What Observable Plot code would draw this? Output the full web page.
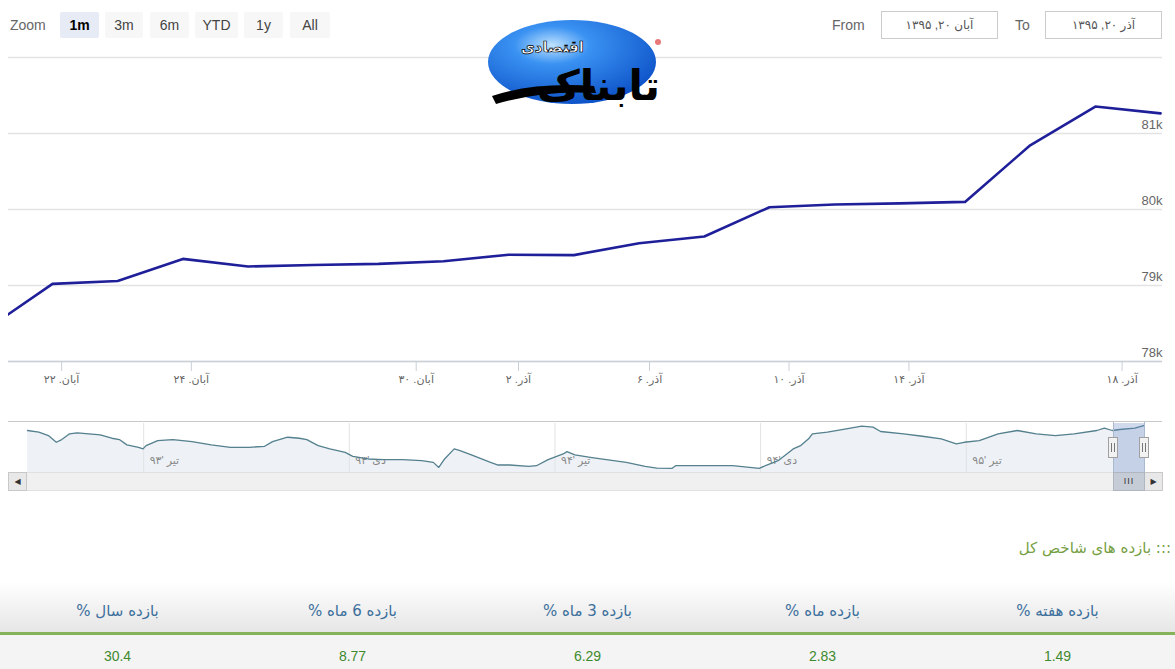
<!DOCTYPE html>
<html>
<head>
<meta charset="utf-8">
<script src="https://cdn.jsdelivr.net/npm/d3@7"></script>
<script src="https://cdn.jsdelivr.net/npm/@observablehq/plot@0.6"></script>
<style>
  html, body { margin: 0; padding: 0; background: #fff; }
  body { width: 1175px; height: 669px; position: relative; overflow: hidden;
         font-family: "Liberation Sans", "DejaVu Sans", sans-serif; }
  .abs { position: absolute; }
  .btn { position: absolute; top: 12px; height: 26px; line-height: 26px; text-align: center;
         background: #f7f7f7; color: #444; font-size: 14px; border-radius: 2px; }
  .btn.sel { background: #e6ebf5; color: #000; font-weight: bold; }
  .dbox { position: absolute; top: 11px; height: 26px; width: 115px; border: 1px solid #ccc;
          line-height: 26px; text-align: center; font-size: 12px; color: #555; background: #fff; }
  .lbl { position: absolute; top: 17px; font-size: 14px; color: #666; }
  .handle { position: absolute; width: 8px; height: 19px; background: #f2f2f2; border: 1px solid #a0a0a0; }
  .handle::before, .handle::after { content: ""; position: absolute; top: 5px; width: 1px; height: 9px; background: #777; }
  .handle::before { left: 2px; } .handle::after { left: 5px; }
  .row { position: absolute; left: 0; width: 1175px; display: flex; direction: rtl; }
  .row div { width: 235px; text-align: center; }
</style>
</head>
<body>
<div id="toolbar"></div>
<div id="main" class="abs" style="left:0;top:0"></div>
<div id="nav" class="abs" style="left:0;top:421px"></div>
<div id="scroll"></div>
<svg class="abs" width="180" height="100" style="left:484px;top:12px" viewBox="0 0 180 100">
  <defs>
    <radialGradient id="lg" cx="38%" cy="30%" r="75%">
      <stop offset="0" stop-color="#bfe2ff"/>
      <stop offset="0.3" stop-color="#3a92f2"/>
      <stop offset="1" stop-color="#0b4fc6"/>
    </radialGradient>
  </defs>
  <ellipse cx="88" cy="50" rx="84" ry="42" fill="url(#lg)"/>
  <path d="M 8 84 Q 50 70 110 74 L 112 81 Q 60 78 12 92 Z" fill="#000"/>
  <text x="176" y="88" font-size="42" font-weight="bold" text-anchor="end" font-family="DejaVu Sans" fill="#000">تابناک</text>
  <text x="100" y="40" font-size="15" font-weight="bold" text-anchor="end" font-family="DejaVu Sans" fill="#fff" stroke="#000" stroke-width="0.7">اقتصادی</text>
  <circle cx="174" cy="30" r="3" fill="#e04040" opacity="0.7"/>
</svg>
<div id="returns"></div>
<script>
// ---------- data ----------
const tradingDay = [-1, 0, 1, 2, 3, 4, 5, 6, 7, 8, 9, 10, 11, 12, 13, 14, 15, 16, 17];
const indexValue = [78430, 79022, 79060, 79350, 79250, 79270, 79285, 79320, 79405, 79400,
                    79555, 79645, 80030, 80065, 80080, 80100, 80845, 81355, 81265];
const xDomain = [-0.675, 17.03];
const xTickPos = [0.14, 2.13, 5.58, 7.15, 9.16, 11.30, 13.14, 16.41];
const xTickLabels = ["آبان. ۲۲", "آبان. ۲۴", "آبان. ۳۰", "آذر. ۲", "آذر. ۶", "آذر. ۱۰", "آذر. ۱۴", "آذر. ۱۸"];
const yDomain = [78000, 82000];
const yGrid = [78000, 79000, 80000, 81000, 82000];
const yLabelTicks = [78000, 79000, 80000, 81000];

const navMonth = [-3.39,-3.06,-2.78,-2.55,-2.39,-2.16,-1.94,-1.60,-1.27,-0.93,-0.71,-0.49,-0.15,-0.02,
  0.07,0.41,0.85,1.41,1.97,2.53,3.09,3.53,3.76,4.20,4.54,4.76,5.09,5.43,5.88,6.10,6.55,6.99,7.55,
  8.11,8.45,8.61,8.78,9.06,9.23,9.56,10.12,10.34,10.68,11.24,11.46,11.80,12.24,12.35,12.58,13.03,
  13.34,14.08,14.63,14.97,15.41,15.52,16.08,17.18,17.96,18.18,18.51,18.95,19.17,19.40,19.51,19.95,
  20.50,20.95,21.28,21.50,22.17,22.72,23.27,23.71,23.94,24.38,24.93,25.49,26.04,26.60,27.15,27.81,
  28.03,28.26,28.48,28.92,29.20];
const navValue = [79000,78220,76700,73620,74860,77480,77940,77480,77020,75460,74860,72420,71320,70580,
  72100,74400,74860,73940,72420,71320,71320,71780,73940,75920,75460,74860,72100,70580,69020,67180,65980,65660,65660,
  65200,64420,62120,65980,70580,69800,67820,64420,63220,63220,62580,62900,65660,68280,69340,67820,66720,
  65980,64420,62580,61840,61660,62900,62900,62900,61660,63220,65200,70580,72100,75180,77480,78220,
  79780,80980,80520,78540,77480,76380,75180,72880,73620,74400,77480,79000,77480,76700,77480,79000,
  80060,79000,79460,80060,81300];
const navYDomain = [59800, 82200];
const navTicks = [0, 6, 12, 18, 24];
const navLabels = ["تیر '۹۳", "دی '۹۳", "تیر '۹۴", "دی '۹۴", "تیر '۹۵"];
const selectedMonths = [28.30, 29.20];

const zoomButtons = ["1m", "3m", "6m", "YTD", "1y", "All"];
const selectedButton = "1m";
const fromDate = "آبان ۲۰, ۱۳۹۵";
const toDate = "آذر ۲۰, ۱۳۹۵";

const returnsTitle = "::: بازده های شاخص کل";
const returnLabels = ["بازده هفته %", "بازده ماه %", "بازده 3 ماه %", "بازده 6 ماه %", "بازده سال %"];
const returnValues = ["1.49", "2.83", "6.29", "8.77", "30.4"];

// ---------- toolbar ----------
const tb = document.getElementById("toolbar");
const btnLeft = [60, 105, 150, 195, 244, 290];
const btnWidth = [39, 38, 39, 43, 39, 40];
let html = `<div class="lbl" style="left:10px;color:#666">Zoom</div>`;
zoomButtons.forEach((b, i) => {
  html += `<div class="btn${b === selectedButton ? " sel" : ""}" style="left:${btnLeft[i]}px;width:${btnWidth[i]}px">${b}</div>`;
});
html += `<div class="lbl" style="left:832px">From</div>`;
html += `<div class="dbox" style="left:881px">${fromDate}</div>`;
html += `<div class="lbl" style="left:1015px">To</div>`;
html += `<div class="dbox" style="left:1045px">${toDate}</div>`;
tb.innerHTML = html;

// ---------- main chart ----------
const mainData = tradingDay.map((d, i) => ({day: d, value: indexValue[i]}));
const tickLabel = new Map(xTickPos.map((p, i) => [p, xTickLabels[i]]));
const main = Plot.plot({
  width: 1175, height: 400,
  marginTop: 57, marginBottom: 39, marginLeft: 8, marginRight: 13,
  x: {domain: xDomain, axis: null},
  y: {domain: yDomain, axis: null},
  style: {fontFamily: "'Liberation Sans', 'DejaVu Sans', sans-serif", fontSize: "11px", background: "transparent", overflow: "visible"},
  marks: [
    Plot.ruleY(yGrid, {stroke: "#e3e3e3", strokeWidth: 1.3}),
    Plot.ruleY([yDomain[0]], {stroke: "#c9d0d8", strokeWidth: 1.3}),
    Plot.axisX({ticks: xTickPos, tickFormat: d => tickLabel.get(d), tickSize: 10, tickPadding: 4,
                stroke: "#c9d0d8", fill: "#666", label: null}),
    Plot.text(yLabelTicks, {x: () => xDomain[1], y: d => d, text: d => d / 1000 + "k",
                textAnchor: "end", dy: -9, fill: "#666", fontSize: 13}),
    Plot.line(mainData, {x: "day", y: "value", stroke: "#1f1f9a", strokeWidth: 2.6, clip: true})
  ]
});
document.getElementById("main").appendChild(main);

// ---------- navigator ----------
const navData = navMonth.map((m, i) => ({m, v: navValue[i]}));
const nav = Plot.plot({
  width: 1175, height: 53,
  marginTop: 2, marginBottom: 2, marginLeft: 27, marginRight: 31,
  x: {domain: [navMonth[0], navMonth[navMonth.length - 1]], axis: null},
  y: {domain: navYDomain, axis: null},
  style: {fontFamily: "'Liberation Sans', 'DejaVu Sans', sans-serif", fontSize: "11px", background: "transparent", overflow: "visible"},
  marks: [
    Plot.areaY(navData, {x: "m", y: "v", fill: "#eef2f7", clip: true}),
    Plot.ruleX(navTicks, {stroke: "#e2e2e2"}),
    Plot.text(navTicks, {x: d => d, text: (d, i) => navLabels[i], frameAnchor: "bottom",
                textAnchor: "start", dx: 6, dy: -9, fill: "#888"}),
    Plot.line(navData, {x: "m", y: "v", stroke: "#55808e", strokeWidth: 1.3}),
    Plot.rect([selectedMonths], {x1: d => d[0], x2: d => d[1], fill: "#6685c2", fillOpacity: 0.3})
  ]
});
document.getElementById("nav").appendChild(nav);

// navigator chrome (outline, handles, scrollbar) positioned by the navigator scale
const nx = nav.scale("x");
const s0 = Math.round(nx.apply(selectedMonths[0]));
const s1 = Math.round(nx.apply(selectedMonths[1]));
let sc = "";
sc += `<div class="abs" style="left:8px;top:421px;width:1154px;height:1px;background:#c8c8c8"></div>`;
sc += `<div class="abs" style="left:${s0}px;top:422px;width:1px;height:50px;background:#aab8d0"></div>`;
sc += `<div class="abs" style="left:${s1}px;top:422px;width:1px;height:50px;background:#aab8d0"></div>`;
sc += `<div class="handle" style="left:${s0 - 5}px;top:437px"></div>`;
sc += `<div class="handle" style="left:${s1 - 5}px;top:437px"></div>`;
sc += `<div class="abs" style="left:8px;top:472px;width:1152px;height:17px;background:#f0f0f0;border:1px solid #e0e0e0"></div>`;
sc += `<div class="abs" style="left:8px;top:472px;width:17px;height:17px;background:#e8e8e8;border:1px solid #c8c8c8;font-size:8px;line-height:17px;text-align:center;color:#333">&#9664;</div>`;
sc += `<div class="abs" style="left:${s1}px;top:472px;width:17px;height:17px;background:#e8e8e8;border:1px solid #c8c8c8;font-size:8px;line-height:17px;text-align:center;color:#333">&#9654;</div>`;
sc += `<div class="abs" style="left:${s0}px;top:472px;width:${s1 - s0 - 1}px;height:17px;background:#c6ccd6;border:1px solid #b0b6c0;font-size:9px;line-height:17px;text-align:center;color:#333;letter-spacing:1px">III</div>`;
document.getElementById("scroll").innerHTML = sc;

// ---------- returns table ----------
let rt = `<div class="abs" dir="rtl" style="right:4px;top:539px;font-size:15px;color:#76a044;font-family:'DejaVu Sans',sans-serif">${returnsTitle}</div>`;
rt += `<div class="row" style="top:582px;height:50px;background:linear-gradient(#ffffff,#e6e6e6);border-bottom:3px solid #86b35a">` +
      returnLabels.map(l => `<div style="line-height:58px;font-size:15px;color:#3c6f9c;font-family:'DejaVu Sans',sans-serif">${l}</div>`).join("") + `</div>`;
rt += `<div class="row" style="top:635px;height:34px;background:#f4f4f4">` +
      returnValues.map(v => `<div style="line-height:42px;font-size:14px;color:#3f8a2e">${v}</div>`).join("") + `</div>`;
document.getElementById("returns").innerHTML = rt;
</script>
</body>
</html>
